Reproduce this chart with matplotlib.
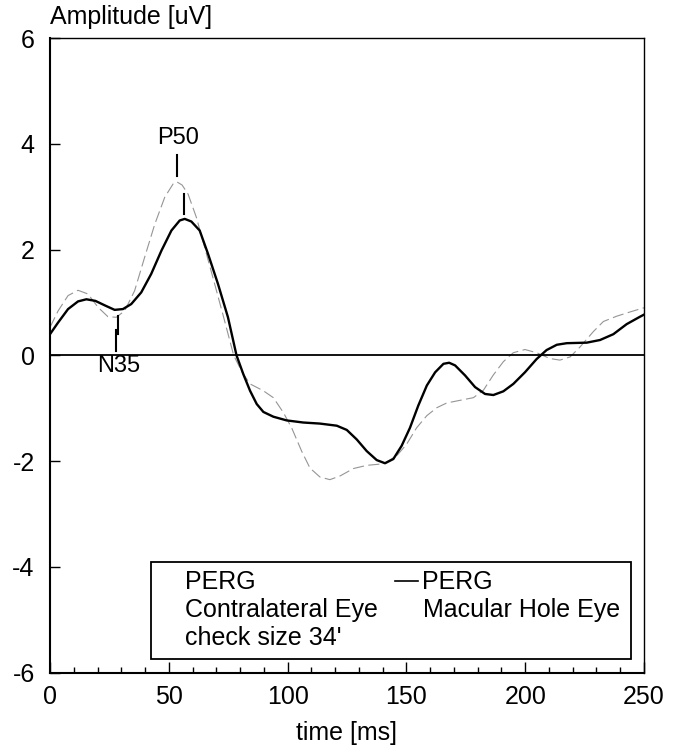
import matplotlib
matplotlib.use("Agg")
import matplotlib.pyplot as plt
from matplotlib.patches import Rectangle
from matplotlib.lines import Line2D
from matplotlib.ticker import MultipleLocator

plt.rcParams['font.family'] = ['Liberation Sans', 'DejaVu Sans']

# Macular hole eye (solid)
t_mh = [0, 3.4, 7.6, 11.8, 15.3, 19.1, 23.3, 27.2, 30.7, 34.2, 38.4, 42.6, 46.9, 51.1,
        54.6, 56.7, 59.5, 63, 66.5, 70.7, 74.9, 78.5, 81.4, 84.2, 87, 89.8, 94, 99.6,
        106.6, 113.6, 120.7, 124.9, 129.1, 133.3, 137.5, 141, 144.5, 148, 151.5, 155,
        158.6, 162.1, 165.6, 168, 170.5, 174.7, 178.9, 183.1, 186.6, 190.8, 195, 199.9,
        204.8, 209, 213.3, 217.5, 225.9, 231.5, 237.1, 242.7, 248.3, 250]
v_mh = [0.40, 0.62, 0.875, 1.02, 1.06, 1.03, 0.94, 0.86, 0.875, 0.97, 1.19, 1.54, 1.98,
        2.36, 2.55, 2.58, 2.53, 2.36, 1.92, 1.35, 0.72, 0.0, -0.36, -0.67, -0.92, -1.07,
        -1.16, -1.23, -1.27, -1.29, -1.33, -1.41, -1.59, -1.81, -1.98, -2.04, -1.96,
        -1.71, -1.37, -0.95, -0.57, -0.32, -0.16, -0.14, -0.19, -0.38, -0.60, -0.73,
        -0.75, -0.68, -0.54, -0.32, -0.07, 0.10, 0.20, 0.23, 0.24, 0.29, 0.40, 0.59,
        0.73, 0.77]

# Contralateral eye (dashed)
t_ce = [0, 3.4, 7.6, 11.8, 16, 20.2, 24.4, 27.9, 31.4, 35.6, 39.8, 44.1, 48.3, 51.8,
        53.4, 55.6, 58.1, 61.6, 65.1, 69.3, 73.5, 77.3, 81, 84.2, 89.8, 94, 98.2, 101.7,
        105.9, 109.4, 113.6, 117.8, 122.1, 127.7, 133.3, 140.3, 145.9, 150.1, 154.3,
        158.6, 162.8, 167, 172.6, 178.2, 182.4, 186.6, 190.8, 195, 199.9, 204.8, 210.4,
        214.6, 218.9, 223.1, 228.7, 232.9, 238.5, 244.1, 250]
v_ce = [0.53, 0.84, 1.13, 1.23, 1.16, 0.91, 0.73, 0.72, 0.84, 1.22, 1.85, 2.48, 2.99,
        3.24, 3.28, 3.22, 3.05, 2.61, 2.04, 1.35, 0.65, 0.0, -0.33, -0.54, -0.67, -0.80,
        -1.08, -1.37, -1.81, -2.13, -2.30, -2.35, -2.28, -2.14, -2.08, -2.05, -1.90,
        -1.68, -1.37, -1.14, -0.99, -0.90, -0.85, -0.80, -0.66, -0.37, -0.12, 0.05, 0.11,
        0.05, -0.06, -0.09, -0.03, 0.16, 0.45, 0.64, 0.74, 0.82, 0.90]

# Peak markers
peak_labels = ["P50", "N35"]
label_x = [54, 29]
label_y = [4.1, -0.2]
mark1_x = [53.3, 27.6]
mark1_y = [(3.40, 3.78), (0.09, 0.47)]
mark2_x = [56.5, 28.8]
mark2_y = [(2.68, 3.06), (0.41, 0.75)]

xticks = [0, 50, 100, 150, 200, 250]
yticks = [-6, -4, -2, 0, 2, 4, 6]

FS = 18

fig = plt.figure(figsize=(6.8, 7.52), dpi=100)
ax = fig.add_axes([50/680, 1-672.7/752, 594/680, 634.7/752])

ax.plot(t_ce, v_ce, color='#959595', lw=0.8, dashes=(10, 4))
ax.plot(t_mh, v_mh, color='black', lw=1.7, solid_joinstyle='round')
ax.axhline(0, color='black', lw=1.3)

for i in range(len(peak_labels)):
    ax.text(label_x[i], label_y[i], peak_labels[i], ha='center', va='center', fontsize=17)
    ax.plot([mark1_x[i]]*2, mark1_y[i], color='black', lw=1.5)
    ax.plot([mark2_x[i]]*2, mark2_y[i], color='black', lw=1.5)

ax.set_xlim(0, 250)
ax.set_ylim(-6, 6)
ax.set_xticks(xticks)
ax.set_yticks(yticks)
ax.set_yticklabels([str(v) for v in yticks])
ax.xaxis.set_minor_locator(MultipleLocator(10))
ax.tick_params(axis='x', which='major', direction='in', length=8, width=1, labelsize=FS, pad=9, top=False)
ax.tick_params(axis='x', which='minor', direction='in', length=4.3, width=1, top=False)
ax.tick_params(axis='y', which='major', direction='in', length=7, width=1, labelsize=FS, pad=11, right=False)
for s in ['left', 'bottom']:
    ax.spines[s].set_linewidth(1.5)
for s in ['top', 'right']:
    ax.spines[s].set_linewidth(1.0)

fig.text(50/680, 1-17/752, 'Amplitude [uV]', ha='left', va='center', fontsize=FS)
fig.text(347/680, 1-733/752, 'time [ms]', ha='center', va='center', fontsize=FS)

# Legend box
ax.add_patch(Rectangle((0.170, 0.0216), 0.808, 0.1528, transform=ax.transAxes,
                       fill=False, edgecolor='black', lw=1.3, zorder=5))
ax.text(0.227, 0.143, 'PERG', transform=ax.transAxes, ha='left', va='center', fontsize=FS)
ax.text(0.227, 0.099, 'Contralateral Eye', transform=ax.transAxes, ha='left', va='center', fontsize=FS)
ax.text(0.227, 0.055, "check size 34'", transform=ax.transAxes, ha='left', va='center', fontsize=FS)
ax.add_line(Line2D([0.581, 0.620], [0.145, 0.145], transform=ax.transAxes, color='black', lw=1.2))
ax.text(0.626, 0.143, 'PERG', transform=ax.transAxes, ha='left', va='center', fontsize=FS)
ax.text(0.628, 0.099, 'Macular Hole Eye', transform=ax.transAxes, ha='left', va='center', fontsize=FS)

fig.savefig('out.png', dpi=100)
